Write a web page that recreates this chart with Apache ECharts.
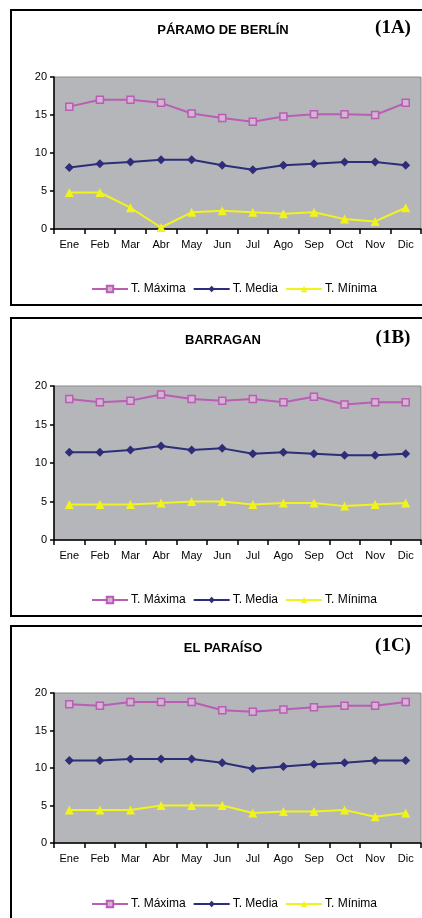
<!DOCTYPE html>
<html>
<head>
<meta charset="utf-8">
<style>
html, body { margin: 0; padding: 0; background: #fff; }
#chart { width: 422px; height: 918px; }
</style>
<script src="https://cdn.jsdelivr.net/npm/echarts@6/dist/echarts.min.js"></script>
</head>
<body>
<div id="chart"></div>
<script>
var meses = ['Ene', 'Feb', 'Mar', 'Abr', 'May', 'Jun', 'Jul', 'Ago', 'Sep', 'Oct', 'Nov', 'Dic'];
var nombres = ['T. Máxima', 'T. Media', 'T. Mínima'];
var estaciones = ['PÁRAMO DE BERLÍN', 'BARRAGAN', 'EL PARAÍSO'];
var etiquetas = ['(1A)', '(1B)', '(1C)'];

// 1A - Páramo de Berlín
var maxA = [16.1, 17.0, 17.0, 16.6, 15.2, 14.6, 14.1, 14.8, 15.1, 15.1, 15.0, 16.6];
var medA = [8.1, 8.6, 8.8, 9.1, 9.1, 8.4, 7.8, 8.4, 8.6, 8.8, 8.8, 8.4];
var minA = [4.8, 4.8, 2.8, 0.2, 2.2, 2.4, 2.2, 2.0, 2.2, 1.3, 1.0, 2.8];
// 1B - Barragan
var maxB = [18.3, 17.9, 18.1, 18.9, 18.3, 18.1, 18.3, 17.9, 18.6, 17.6, 17.9, 17.9];
var medB = [11.4, 11.4, 11.7, 12.2, 11.7, 11.9, 11.2, 11.4, 11.2, 11.0, 11.0, 11.2];
var minB = [4.6, 4.6, 4.6, 4.8, 5.0, 5.0, 4.6, 4.8, 4.8, 4.4, 4.6, 4.8];
// 1C - El Paraíso
var maxC = [18.5, 18.3, 18.8, 18.8, 18.8, 17.7, 17.5, 17.8, 18.1, 18.3, 18.3, 18.8];
var medC = [11.0, 11.0, 11.2, 11.2, 11.2, 10.7, 9.9, 10.2, 10.5, 10.7, 11.0, 11.0];
var minC = [4.4, 4.4, 4.4, 5.0, 5.0, 5.0, 4.0, 4.2, 4.2, 4.4, 3.5, 4.0];

var datos = [[maxA, medA, minA], [maxB, medB, minB], [maxC, medC, minC]];

// posiciones de cada panel (marco, area de trazado, titulo, leyenda)
var paneles = [
    { marco: 10, alto: 295, top: 77, h: 152, titulo: 30, leyenda: 278 },
    { marco: 318, alto: 298, top: 386, h: 154, titulo: 340, leyenda: 589 },
    { marco: 626, alto: 400, top: 693, h: 150, titulo: 648, leyenda: 893 }
];

var colores = ['#b95db5', '#2d2d78', '#f2f21c'];
var fuente = '"Liberation Sans", Arial, sans-serif';

var myChart = echarts.init(document.getElementById('chart'));

var grids = [], xAxes = [], yAxes = [], series = [], legends = [], graphics = [];

for (var i = 0; i < 3; i++) {
    var p = paneles[i];
    graphics.push({
        type: 'rect', silent: true,
        shape: { x: 11, y: p.marco, width: 440, height: p.alto },
        style: { fill: 'none', stroke: '#000', lineWidth: 2 }
    });
    graphics.push({
        type: 'text', silent: true,
        style: {
            text: estaciones[i], x: 223, y: p.titulo, align: 'center', verticalAlign: 'middle',
            font: 'bold 13px ' + fuente, fill: '#000'
        }
    });
    graphics.push({
        type: 'text', silent: true,
        style: {
            text: etiquetas[i], x: 393, y: p.titulo - 2, align: 'center', verticalAlign: 'middle',
            font: 'bold 19px "Liberation Serif", "Times New Roman", serif', fill: '#000'
        }
    });

    grids.push({
        left: 54, right: 1, top: p.top, height: p.h,
        show: true, backgroundColor: '#b5b6ba', borderColor: '#8a8a8a', borderWidth: 1
    });
    xAxes.push({
        type: 'category', gridIndex: i, data: meses, boundaryGap: true,
        axisLine: { lineStyle: { color: '#000', width: 1.5 } },
        axisTick: { show: true, length: 5, lineStyle: { color: '#000', width: 1.5 } },
        axisLabel: { color: '#000', fontSize: 11, fontFamily: fuente, margin: 10, interval: 0 }
    });
    yAxes.push({
        type: 'value', gridIndex: i, min: 0, max: 20, interval: 5,
        axisLine: { show: true, lineStyle: { color: '#000', width: 1.5 } },
        axisTick: { show: true, length: 4, lineStyle: { color: '#000', width: 1.5 } },
        axisLabel: { color: '#000', fontSize: 11, fontFamily: fuente, margin: 7 },
        splitLine: { show: false }
    });

    series.push({
        name: nombres[0], type: 'line', xAxisIndex: i, yAxisIndex: i, data: datos[i][0],
        symbol: 'rect', symbolSize: 7, showAllSymbol: true,
        lineStyle: { color: colores[0], width: 2 },
        itemStyle: { color: '#d6b3d3', borderColor: colores[0], borderWidth: 1.5 }
    });
    series.push({
        name: nombres[1], type: 'line', xAxisIndex: i, yAxisIndex: i, data: datos[i][1],
        symbol: 'diamond', symbolSize: 9, showAllSymbol: true,
        lineStyle: { color: colores[1], width: 2 },
        itemStyle: { color: colores[1] }
    });
    series.push({
        name: nombres[2], type: 'line', xAxisIndex: i, yAxisIndex: i, data: datos[i][2],
        symbol: 'triangle', symbolSize: 9, showAllSymbol: true,
        lineStyle: { color: colores[2], width: 2 },
        itemStyle: { color: colores[2] }
    });

    legends.push({
        data: nombres, left: 86, top: p.leyenda, itemWidth: 36, itemHeight: 8, itemGap: 7,
        textStyle: { color: '#000', fontSize: 12, fontFamily: fuente, padding: [0, 0, 0, -2] }
    });
}

var option = {
    animation: false,
    grid: grids,
    xAxis: xAxes,
    yAxis: yAxes,
    legend: legends,
    graphic: graphics,
    series: series
};
myChart.setOption(option);
</script>
</body>
</html>
